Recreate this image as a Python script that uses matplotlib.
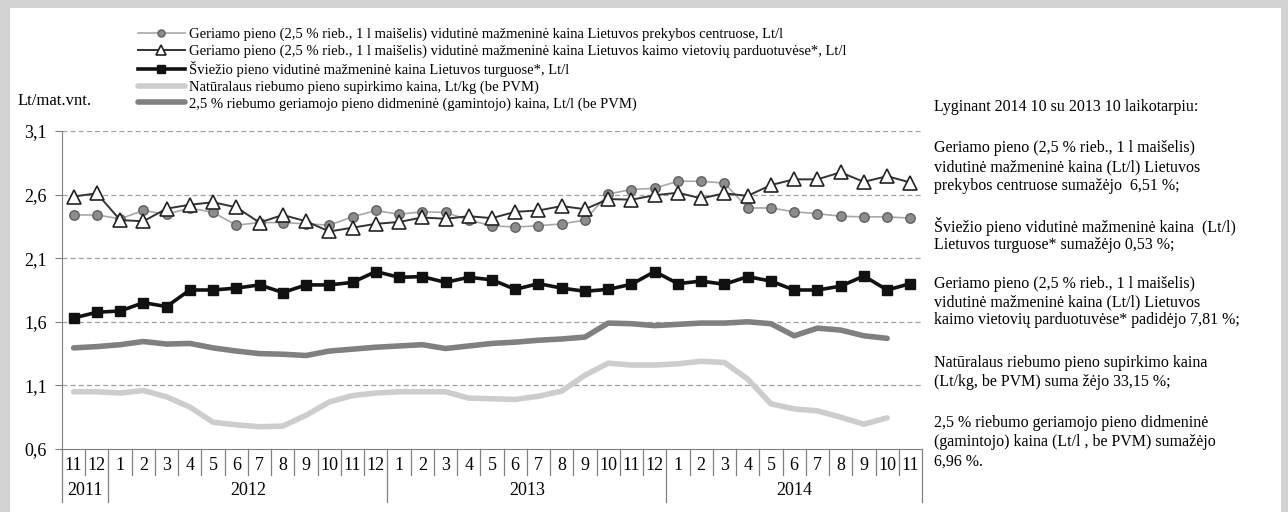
import numpy as np
import matplotlib
matplotlib.use("Agg")
import matplotlib.pyplot as plt
from matplotlib.patches import Rectangle
import matplotlib.transforms as mtransforms

# ── Data ────────────────────────────────────────────────────────────
months = ["11", "12", "1", "2", "3", "4", "5", "6", "7", "8", "9", "10", "11", "12",
          "1", "2", "3", "4", "5", "6", "7", "8", "9", "10", "11", "12",
          "1", "2", "3", "4", "5", "6", "7", "8", "9", "10", "11"]
years = ["2011", "2012", "2013", "2014"]
year_spans = [(0, 1), (2, 13), (14, 25), (26, 36)]

# prekybos centrai (circles)
retail_centres = [2.44, 2.44, 2.41, 2.475, 2.445, 2.495, 2.46, 2.36, 2.38, 2.38, 2.37, 2.36,
                  2.425, 2.475, 2.445, 2.465, 2.46, 2.40, 2.355, 2.345, 2.355, 2.37, 2.40,
                  2.605, 2.64, 2.65, 2.705, 2.705, 2.69, 2.495, 2.495, 2.465, 2.45, 2.43,
                  2.425, 2.425, 2.415]
# kaimo vietovių parduotuvės (triangles)
rural_shops = [2.585, 2.61, 2.40, 2.39, 2.49, 2.52, 2.54, 2.50, 2.38, 2.44, 2.39, 2.31,
               2.34, 2.37, 2.385, 2.42, 2.41, 2.43, 2.415, 2.465, 2.475, 2.51, 2.485,
               2.565, 2.56, 2.595, 2.615, 2.57, 2.61, 2.59, 2.675, 2.72, 2.72, 2.775,
               2.70, 2.745, 2.695]
# turgus (squares)
markets = [1.63, 1.675, 1.685, 1.75, 1.72, 1.85, 1.85, 1.865, 1.89, 1.83, 1.89, 1.89,
           1.91, 1.995, 1.95, 1.955, 1.91, 1.95, 1.93, 1.855, 1.90, 1.865, 1.84, 1.855,
           1.895, 1.995, 1.90, 1.92, 1.895, 1.955, 1.92, 1.85, 1.85, 1.88, 1.96, 1.85, 1.90]
# supirkimo kaina (light grey)
farm_gate = [1.05, 1.05, 1.04, 1.06, 1.01, 0.93, 0.81, 0.79, 0.775, 0.78, 0.865, 0.97,
             1.02, 1.04, 1.05, 1.05, 1.05, 1.0, 0.995, 0.99, 1.015, 1.055, 1.18, 1.275,
             1.26, 1.26, 1.27, 1.29, 1.28, 1.15, 0.955, 0.915, 0.90, 0.85, 0.795, 0.845,
             np.nan]
# didmeninė kaina (dark grey)
wholesale = [1.395, 1.405, 1.42, 1.445, 1.425, 1.43, 1.395, 1.37, 1.35, 1.345, 1.335, 1.37,
             1.385, 1.40, 1.41, 1.42, 1.39, 1.41, 1.43, 1.44, 1.455, 1.465, 1.48, 1.59,
             1.585, 1.57, 1.58, 1.59, 1.59, 1.60, 1.585, 1.49, 1.55, 1.535, 1.49, 1.47,
             np.nan]

yticks = [0.6, 1.1, 1.6, 2.1, 2.6, 3.1]
ytick_labels = ["0,6", "1,1", "1,6", "2,1", "2,6", "3,1"]

labels = [
    "Geriamo pieno (2,5 % rieb., 1 l maišelis) vidutinė mažmeninė kaina Lietuvos prekybos centruose, Lt/l",
    "Geriamo pieno (2,5 % rieb., 1 l maišelis) vidutinė mažmeninė kaina Lietuvos kaimo vietovių parduotuvėse*, Lt/l",
    "Šviežio pieno vidutinė mažmeninė kaina Lietuvos turguose*, Lt/l",
    "Natūralaus riebumo pieno supirkimo kaina, Lt/kg (be PVM)",
    "2,5 % riebumo geriamojo pieno didmeninė (gamintojo) kaina, Lt/l (be PVM)",
]

side_lines = [
    ("Lyginant 2014 10 su 2013 10 laikotarpiu:", 107),
    ("Geriamo pieno (2,5 % rieb., 1 l maišelis)", 148),
    ("vidutinė mažmeninė kaina (Lt/l) Lietuvos", 167),
    ("prekybos centruose sumažėjo  6,51 %;", 186),
    ("Šviežio pieno vidutinė mažmeninė kaina  (Lt/l)", 227),
    ("Lietuvos turguose* sumažėjo 0,53 %;", 245),
    ("Geriamo pieno (2,5 % rieb., 1 l maišelis)", 284),
    ("vidutinė mažmeninė kaina (Lt/l) Lietuvos", 302),
    ("kaimo vietovių parduotuvėse* padidėjo 7,81 %;", 320),
    ("Natūralaus riebumo pieno supirkimo kaina", 363),
    ("(Lt/kg, be PVM) suma žėjo 33,15 %;", 382),
    ("2,5 % riebumo geriamojo pieno didmeninė", 423),
    ("(gamintojo) kaina (Lt/l , be PVM) sumažėjo", 442),
    ("6,96 %.", 462),
]

# ── Figure ──────────────────────────────────────────────────────────
plt.rcParams["font.family"] = ["Liberation Serif", "DejaVu Serif"]
W, H = 1288, 512
fig = plt.figure(figsize=(W / 100, H / 100), dpi=100, facecolor="#d3d3d3")
fig.patches.append(Rectangle((10 / W, 0), 1271 / W, 504 / H, transform=fig.transFigure,
                             facecolor="white", edgecolor="none", zorder=-10))

ax = fig.add_axes([62 / W, 1 - 449 / H, 860 / W, 318 / H])
ax.set_facecolor("none")
x = np.arange(len(months))

ax.plot(x, farm_gate, color="#cdcdcd", lw=4, solid_capstyle="round", label=labels[3], zorder=2)
ax.plot(x, wholesale, color="#808080", lw=4, solid_capstyle="round", label=labels[4], zorder=2)
ax.plot(x, markets, color="#111111", lw=2.6, marker="s", ms=7, mfc="#111111", mec="#111111",
        label=labels[2], zorder=3)
ax.plot(x, retail_centres, color="#a8a8a8", lw=1.2, marker="o", ms=6.8, mfc="#8c8c8c",
        mec="#606060", mew=1, label=labels[0], zorder=4)
ax.plot(x, rural_shops, color="#333333", lw=1.4, marker="^", ms=10.5, mfc="white",
        mec="#222222", mew=1.2, label=labels[1], zorder=5)

ax.set_xlim(-0.5, len(months) - 0.5)
ax.set_ylim(0.6, 3.1)
ax.set_yticks(yticks)
ax.set_yticklabels(ytick_labels, fontsize=13)
ax.set_xticks(x)
ax.set_xticklabels(months, fontsize=13)
ax.tick_params(axis="x", length=0, pad=6)
ax.tick_params(axis="y", length=5, width=0.8, color="#808080", pad=6)
for yv in yticks[1:]:
    ax.axhline(yv, color="#a0a0a0", lw=0.9, ls=(0, (4, 2.5)), zorder=1)
for s in ["top", "right"]:
    ax.spines[s].set_visible(False)
ax.spines["left"].set_color("#808080")
ax.spines["bottom"].set_color("#808080")

# category separators below axis
trans = mtransforms.blended_transform_factory(ax.transData, ax.transAxes)
long_seps = [-0.5] + [e + 0.5 for _, e in year_spans]
for k in range(len(months) + 1):
    xs = k - 0.5
    y_end = -0.167 if xs in long_seps else -0.082
    ax.plot([xs, xs], [0, y_end], color="#808080", lw=0.9, transform=trans, clip_on=False)
for yr, (s, e) in zip(years, year_spans):
    ax.text((s + e) / 2, -0.129, yr, transform=trans, ha="center", va="center", fontsize=13)

fig.text(18 / W, 1 - 101 / H, "Lt/mat.vnt.", fontsize=12, va="center", ha="left")

# legend
handles, labs = ax.get_legend_handles_labels()
order = [labs.index(l) for l in labels]
leg = fig.legend([handles[i] for i in order], [labs[i] for i in order],
                 loc="upper left", bbox_to_anchor=(138 / W, 1 - 28 / H), frameon=False,
                 fontsize=10.5, handlelength=3.2, handletextpad=0.3, labelspacing=0.22,
                 borderpad=0, borderaxespad=0, markerscale=0.75)

for txt, yp in side_lines:
    fig.text(934 / W, 1 - yp / H, txt, fontsize=11.5, va="center", ha="left")

fig.savefig("out.png", dpi=100, facecolor=fig.get_facecolor())
